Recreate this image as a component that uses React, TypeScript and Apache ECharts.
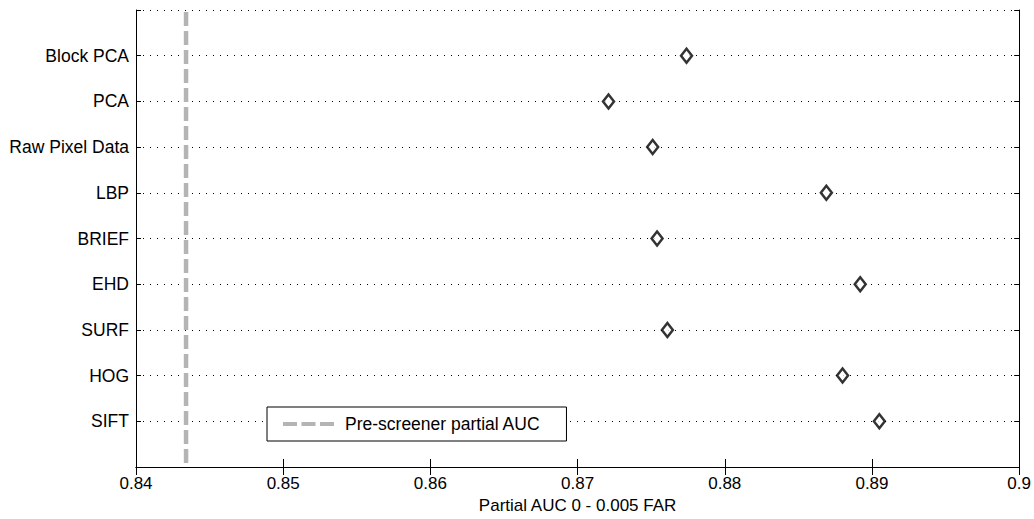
import React, { useEffect, useRef } from 'react';
import * as echarts from 'echarts';

const categories = ['Block PCA', 'PCA', 'Raw Pixel Data', 'LBP', 'BRIEF', 'EHD', 'SURF', 'HOG', 'SIFT'];
const aucValues = [0.8774, 0.8721, 0.8751, 0.8869, 0.8754, 0.8892, 0.8761, 0.888, 0.8905];
const preScreenerAuc = 0.8434;
const preScreenerName = 'Pre-screener partial AUC';
const xMin = 0.84;
const xMax = 0.9;
const xStep = 0.01;
const xTitle = 'Partial AUC 0 - 0.005 FAR';

const FONT = '"Liberation Sans", Arial, Helvetica, sans-serif';
const DASH_ICON = 'path://M0,0H14V4H0Z M18.5,0H32.5V4H18.5Z M37,0H51V4H37Z';

export default function App() {
  const ref = useRef<HTMLDivElement>(null);
  useEffect(() => {
    if (!ref.current) return;
    const chart = echarts.init(ref.current, undefined, { renderer: 'svg' });
    const n = categories.length;
    const yLabel = (v: number) => (v >= 1 && v <= n ? categories[n - v] : '');
    const axisLineStyle = { show: true, lineStyle: { color: '#000', width: 1 } };
    chart.setOption({
      animation: false,
      backgroundColor: '#fff',
      textStyle: { fontFamily: FONT },
      grid: { left: 136, top: 10, width: 885, height: 460, containLabel: false },
      legend: {
        data: [{ name: preScreenerName, icon: DASH_ICON }],
        left: 267,
        top: 407,
        backgroundColor: '#fff',
        borderColor: '#000',
        borderWidth: 1,
        borderRadius: 0,
        padding: [8, 26, 8, 16],
        itemWidth: 51,
        itemHeight: 4,
        selectedMode: false,
        itemStyle: { color: '#b4b4b4', borderWidth: 0 },
        textStyle: { fontSize: 17.5, color: '#000', fontFamily: FONT, padding: [0, 0, 0, 6] },
      },
      xAxis: [
        {
          type: 'value',
          position: 'bottom',
          min: xMin,
          max: xMax,
          interval: xStep,
          axisLine: axisLineStyle,
          axisTick: { show: true, inside: true, length: 8, lineStyle: { color: '#000' } },
          axisLabel: {
            color: '#000',
            fontSize: 17,
            fontFamily: FONT,
            margin: 8,
            formatter: (v: number) => String(parseFloat(v.toFixed(2))),
          },
          splitLine: { show: false },
          name: xTitle,
          nameLocation: 'middle',
          nameGap: 30,
          nameTextStyle: { color: '#000', fontSize: 17, fontFamily: FONT },
        },
        {
          type: 'value',
          position: 'top',
          min: xMin,
          max: xMax,
          interval: xStep,
          axisLine: axisLineStyle,
          axisTick: { show: true, inside: true, length: 8, lineStyle: { color: '#000' } },
          axisLabel: { show: false },
          splitLine: { show: false },
        },
      ],
      yAxis: [
        {
          type: 'value',
          position: 'left',
          min: 0,
          max: 10,
          interval: 1,
          axisLine: axisLineStyle,
          axisTick: { show: true, inside: true, length: 5, lineStyle: { color: '#000' } },
          axisLabel: { color: '#000', fontSize: 17.5, fontFamily: FONT, margin: 7, formatter: yLabel },
          splitLine: { show: true, lineStyle: { color: '#000', width: 1, type: [1, 6] } },
        },
        {
          type: 'value',
          position: 'right',
          min: 0,
          max: 10,
          interval: 1,
          axisLine: axisLineStyle,
          axisTick: { show: true, inside: true, length: 5, lineStyle: { color: '#000' } },
          axisLabel: { show: false },
          splitLine: { show: false },
        },
      ],
      series: [
        {
          name: preScreenerName,
          type: 'line',
          xAxisIndex: 0,
          yAxisIndex: 0,
          data: [
            [preScreenerAuc, 0.09],
            [preScreenerAuc, 9.96],
          ],
          symbol: 'none',
          silent: true,
          z: 1,
          lineStyle: { color: '#b4b4b4', width: 4.5, type: [14, 5] },
          itemStyle: { color: '#b4b4b4' },
        },
        {
          name: 'Partial AUC',
          type: 'scatter',
          xAxisIndex: 0,
          yAxisIndex: 0,
          data: aucValues.map((v, i) => [v, n - i]),
          symbol: 'diamond',
          symbolSize: [11, 14],
          z: 3,
          itemStyle: { color: '#fff', borderColor: '#000', borderWidth: 2.5 },
        },
      ],
    });
    return () => chart.dispose();
  }, []);
  return (
    <div
      ref={ref}
      style={{ position: 'fixed', left: 0, top: 0, width: 1034, height: 519, background: '#fff' }}
    />
  );
}
